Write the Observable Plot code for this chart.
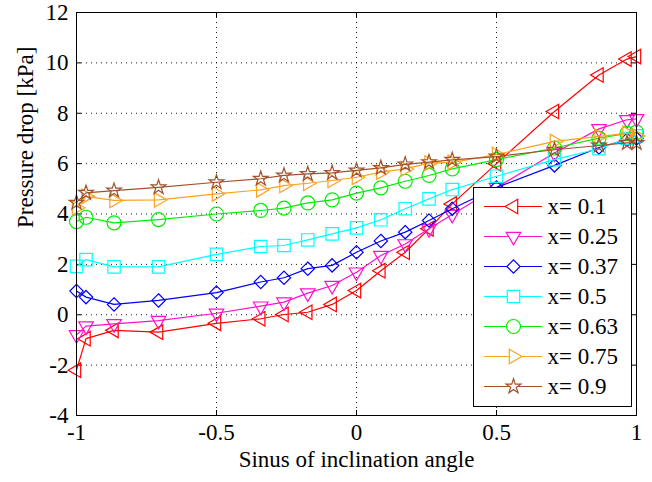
<!DOCTYPE html>
<html><head><meta charset="utf-8">
<script src="https://cdn.jsdelivr.net/npm/d3@7"></script>
<script src="https://cdn.jsdelivr.net/npm/@observablehq/plot@0.6"></script>
<style>
body{margin:0;background:#fff}
#wrap{position:relative;width:652px;height:482px;background:#fff}
#legend{position:absolute;left:473px;top:187px;width:159px;height:220px;box-sizing:border-box;border:1px solid #000;background:#fff}
#legend svg,#chart svg{display:block}
</style>
</head><body>
<div id="wrap"><div id="chart"></div><div id="legend"></div></div>
<script>
// x: sine of inclination angle
const sinAngle = [-1, -0.966, -0.866, -0.707, -0.5, -0.342, -0.259, -0.174, -0.087, 0, 0.087, 0.174, 0.259, 0.342, 0.5, 0.707, 0.866, 0.966, 1];
// pressure drop [kPa] per quality
const dp_x010 = [-2.2, -0.95, -0.62, -0.69, -0.34, -0.16, 0.01, 0.10, 0.41, 0.96, 1.75, 2.48, 3.41, 4.40, 6.0, 8.07, 9.52, 10.15, 10.25];
const dp_x025 = [-0.8, -0.45, -0.36, -0.23, 0.06, 0.34, 0.50, 0.86, 1.16, 1.69, 2.35, 2.81, 3.41, 3.98, 5.05, 6.42, 7.38, 7.74, 7.78];
const dp_x037 = [0.94, 0.70, 0.41, 0.57, 0.88, 1.30, 1.47, 1.83, 1.96, 2.48, 2.93, 3.28, 3.74, 4.21, 5.05, 5.93, 6.64, 6.95, 7.0];
const dp_x050 = [1.92, 2.19, 1.90, 1.90, 2.40, 2.71, 2.75, 2.97, 3.21, 3.45, 3.77, 4.21, 4.60, 4.97, 5.50, 6.16, 6.59, 7.0, 7.1];
const dp_x063 = [3.70, 3.87, 3.65, 3.78, 4.00, 4.14, 4.23, 4.44, 4.56, 4.83, 5.04, 5.30, 5.53, 5.79, 6.16, 6.62, 7.01, 7.2, 7.25];
const dp_x075 = [4.25, 4.7, 4.54, 4.56, 4.80, 4.96, 5.13, 5.22, 5.33, 5.46, 5.66, 5.79, 6.02, 6.05, 6.36, 6.88, 7.08, 7.2, 7.1];
const dp_x090 = [4.45, 4.84, 4.93, 5.06, 5.26, 5.40, 5.53, 5.59, 5.63, 5.73, 5.83, 5.97, 6.06, 6.15, 6.28, 6.55, 6.72, 6.82, 6.82];

const seriesLabels = ["x= 0.1", "x= 0.25", "x= 0.37", "x= 0.5", "x= 0.63", "x= 0.75", "x= 0.9"];
const seriesValues = [dp_x010, dp_x025, dp_x037, dp_x050, dp_x063, dp_x075, dp_x090];
const seriesColors = ["#ff0000", "#ff11cc", "#0000ff", "#00ffff", "#00ee00", "#ffa020", "#a0522d"];
const seriesSymbols = ["triangle", "triangle", "diamond2", "square", "circle", "triangle", "star"];
const seriesRotate = [-90, 180, 0, 0, 0, 90, 0];
const seriesR = [5.4, 5.4, 6, 7, 7, 5.4, 4.6];

const xTicks = [-1, -0.5, 0, 0.5, 1];
const yTicks = [-4, -2, 0, 2, 4, 6, 8, 10, 12];
const xGrid = [-0.5, 0, 0.5];
const yGrid = [-2, 0, 2, 4, 6, 8, 10];

const rows = [];
seriesLabels.forEach((s, i) => sinAngle.forEach((x, j) => rows.push({series: s, x, y: seriesValues[i][j]})));

const font = "Liberation Serif, Times New Roman, serif";
const fs = 23;
const colorScale = {domain: seriesLabels, range: seriesColors};

const marks = [
  Plot.gridX(xGrid, {stroke: "black", strokeOpacity: 0.9, strokeDasharray: "1,4"}),
  Plot.gridY(yGrid, {stroke: "black", strokeOpacity: 0.9, strokeDasharray: "1,4"}),
  Plot.ruleX(xTicks, {x: d => d, y1: -4, y2: -3.8, stroke: "black"}),
  Plot.ruleX(xTicks, {x: d => d, y1: 12, y2: 11.8, stroke: "black"}),
  Plot.ruleY(yTicks, {y: d => d, x1: -1, x2: -0.982, stroke: "black"}),
  Plot.ruleY(yTicks, {y: d => d, x1: 1, x2: 0.982, stroke: "black"}),
  Plot.axisX({ticks: xTicks, tickSize: 0, tickPadding: 8, fontSize: fs, tickFormat: d => String(d), label: null}),
  Plot.axisY({ticks: yTicks, tickSize: 0, tickPadding: 8, fontSize: fs, tickFormat: d => String(d), label: null}),
  Plot.text(["Sinus of inclination angle"], {frameAnchor: "bottom", dy: 51, fontSize: fs, fill: "black"}),
  Plot.text(["Pressure drop [kPa]"], {frameAnchor: "left", rotate: -90, dx: -51, dy: 14, fontSize: fs, fill: "black"})
];
seriesLabels.forEach((s, i) => {
  const data = rows.filter(d => d.series === s);
  marks.push(Plot.line(data, {x: "x", y: "y", stroke: "series", strokeWidth: 1.2}));
  marks.push(Plot.dot(data, {x: "x", y: "y", stroke: "series", fill: "none", symbol: seriesSymbols[i], rotate: seriesRotate[i], r: seriesR[i], strokeWidth: 1.2}));
});
marks.push(Plot.frame({stroke: "black"}));

const chart = Plot.plot({
  width: 652, height: 482,
  marginLeft: 76, marginRight: 16, marginTop: 12, marginBottom: 67,
  style: {fontFamily: font, fontSize: fs + "px", background: "white", color: "black"},
  x: {domain: [-1, 1]},
  y: {domain: [-4, 12]},
  color: colorScale,
  marks
});
document.getElementById("chart").appendChild(chart);

const legendMarks = [
  Plot.ruleY(seriesLabels, {y: d => d, stroke: d => d, strokeWidth: 1.2}),
  Plot.text(seriesLabels, {y: d => d, text: d => d, frameAnchor: "right", textAnchor: "start", dx: 5, fontSize: fs, fill: "black"})
];
seriesLabels.forEach((s, i) => {
  legendMarks.push(Plot.dot([s], {y: d => d, stroke: d => d, fill: "white", symbol: seriesSymbols[i], rotate: seriesRotate[i], r: seriesR[i], strokeWidth: 1.2}));
});
const legend = Plot.plot({
  width: 157, height: 218,
  marginLeft: 10, marginRight: 89, marginTop: 17, marginBottom: 19,
  style: {fontFamily: font, fontSize: fs + "px", background: "white", color: "black"},
  x: {domain: [0, 1], axis: null},
  y: {type: "point", domain: seriesLabels, padding: 0, axis: null},
  color: colorScale,
  marks: legendMarks
});
document.getElementById("legend").appendChild(legend);
</script>
</body></html>
